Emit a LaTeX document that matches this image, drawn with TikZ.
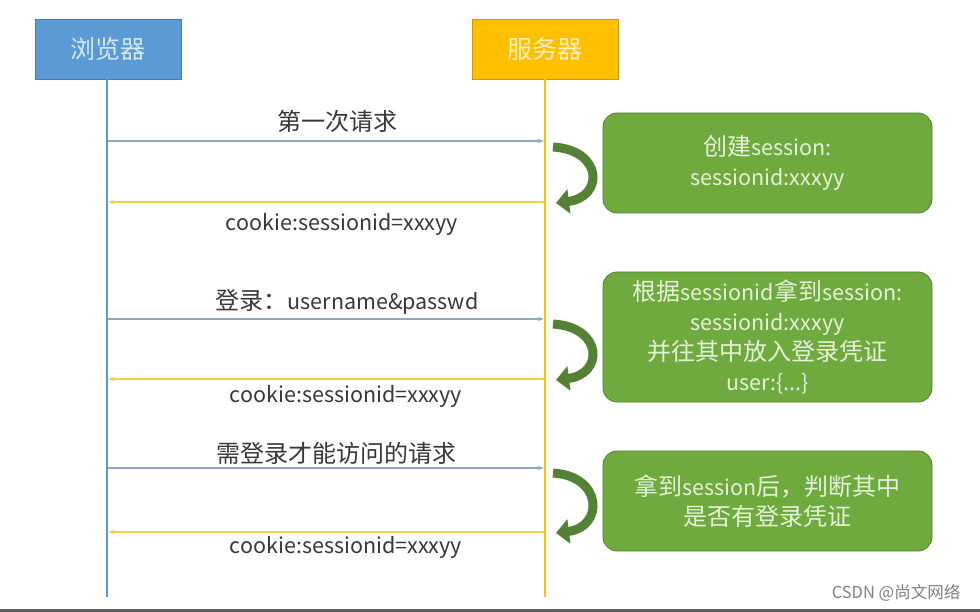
\documentclass[tikz,border=0pt]{standalone}
\usepackage{fontspec}
\setmainfont{Noto Sans CJK SC}
\usetikzlibrary{arrows.meta}
\definecolor{bblue}{HTML}{5B9BD5}
\definecolor{syel}{HTML}{FFC000}
\definecolor{gfill}{HTML}{6EAA3E}
\definecolor{gdark}{HTML}{548235}
\definecolor{gtext}{HTML}{E6F2D8}
\definecolor{lbl}{HTML}{383838}
\definecolor{reqc}{HTML}{8EA9C8}
\definecolor{resc}{HTML}{F0D24A}
\newcommand\zhtxt[1]{{\fontsize{24}{30}\selectfont #1}}
\begin{document}
\begin{tikzpicture}[x=1pt,y=-1pt,
  head/.style={draw=#1!80!black, line width=0.8pt, fill=#1, minimum width=146pt, minimum height=60pt,
     inner sep=0pt, font=\fontsize{25}{30}\selectfont},
  gbox/.style={draw=gdark, line width=0.8pt, fill=gfill, rounded corners=14pt, minimum width=329pt,
     minimum height=#1, inner sep=0pt, text=gtext, align=center, font=\fontsize{21.5}{30}\selectfont},
  msg/.style={text=lbl, inner sep=0pt, font=\fontsize{21.5}{26}\selectfont},
  req/.style={draw=reqc, line width=1.2pt, -{Stealth[length=6pt,width=4pt]}},
  res/.style={draw=resc, line width=1.2pt, -{Stealth[length=6pt,width=4pt]}},
  life/.style={line width=2.4pt},
  turn/.style={draw=gdark, line width=9pt, -{Triangle[length=13pt,width=24pt]}}
]
\useasboundingbox (0,0) rectangle (980,612);
\fill[white] (0,0) rectangle (980,612);

% heads
\node[head=bblue, text=bblue!25!white] (b) at (108,49) {浏览器};
\node[head=syel, text=syel!25!white] (s) at (545,49) {服务器};
\coordinate (bend) at (107,597);
\coordinate (send) at (545,597);
\draw[life, bblue] (b.south -| bend) -- (bend);
\draw[life, syel] (s.south -| send) -- (send);

% message endpoints
\foreach \n/\y in {1/141,2/202,3/319,4/379,5/468,6/532}{
  \coordinate (bl\n) at (108,\y);
  \coordinate (sl\n) at (544,\y);
}

\draw[req] (bl1) -- (sl1);
\draw[res] (sl2) -- (bl2);
\draw[req] (bl3) -- (sl3);
\draw[res] (sl4) -- (bl4);
\draw[req] (bl5) -- (sl5);
\draw[res] (sl6) -- (bl6);

\node[msg] (m1) at (337,121) {\zhtxt{第一次请求}};
\node[msg] (m2) at (342,224) {cookie:sessionid=xxxyy};
\node[msg] (m3) at (347,302) {\zhtxt{登录：}username\&passwd};
\node[msg] (m4) at (346,396) {cookie:sessionid=xxxyy};
\node[msg] (m5) at (336,453) {\zhtxt{需登录才能访问的请求}};
\node[msg] (m6) at (346,547) {cookie:sessionid=xxxyy};

% green boxes
\node[gbox=100pt] (g1) at (767.5,163) {\zhtxt{创建}session:\\sessionid:xxxyy};
\node[gbox=130pt] (g2) at (767.5,337) {\zhtxt{根据}sessionid\zhtxt{拿到}session:\\sessionid:xxxyy\\\zhtxt{并往其中放入登录凭证}\\user:\{...\}};
\node[gbox=100pt] (g3) at (767.5,501) {\zhtxt{拿到}session\zhtxt{后，判断其中}\\\zhtxt{是否有登录凭证}};

% turn arrows
\foreach \a/\z in {142/203,319/380,468/533}{
  \draw[turn] (553,\a+5) .. controls (603,\a+8) and (604,\z-6) .. (556,\z);
}

% watermark and bottom rule
\node[text=black!50, inner sep=0pt, font=\fontsize{16.5}{18}\selectfont] (wm) at (896,593) {CSDN @尚文网络};
\fill[black!62] (0,609) rectangle (980,612);
\end{tikzpicture}
\end{document}
